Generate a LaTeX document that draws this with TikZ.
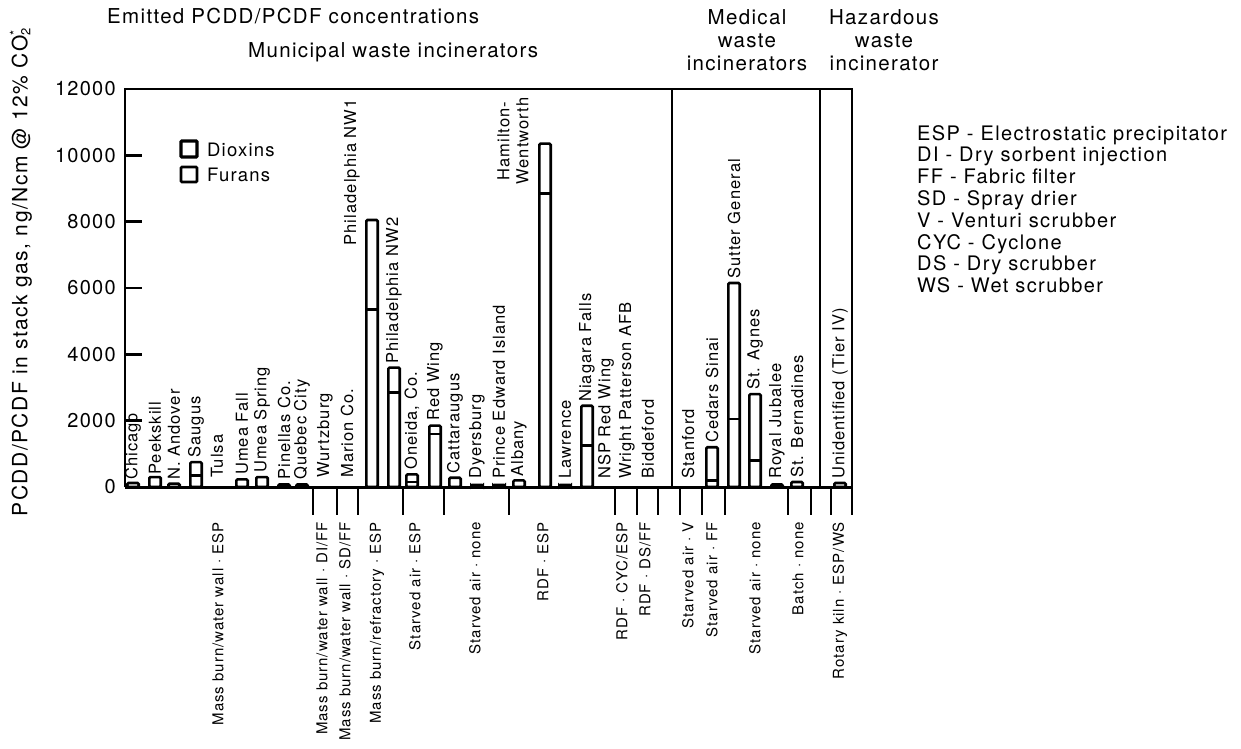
\documentclass[tikz,border=0pt]{standalone}
\usepackage{fontspec}
\setmainfont{TeX Gyre Heros}
\newfontfamily\hvs[LetterSpace=6.5]{TeX Gyre Heros}
\newfontfamily\hvl[LetterSpace=7]{TeX Gyre Heros}
\begin{document}
\begin{tikzpicture}[x=1pt,y=-1pt,line cap=butt]
\useasboundingbox (0,0) rectangle (1241,748);
\tikzset{
  frameline/.style={line width=2.6pt},
  barbox/.style={line width=2.6pt,rounded corners=1.2pt},
  tickline/.style={line width=2.8pt},
  nm/.style={rotate=90,anchor=west,inner sep=0pt,font=\hvs\fontsize{16.5}{20}\selectfont},
  cat/.style={rotate=90,anchor=east,inner sep=0pt,font=\hvs\fontsize{15}{18}\selectfont},
  head/.style={inner sep=0pt,font=\hvs\fontsize{20.5}{23}\selectfont},
  ylab/.style={anchor=east,inner sep=0pt,font=\hvs\fontsize{20}{23}\selectfont},
}
% headings
\node[head,anchor=base west] (title) at (107,23) {Emitted PCDD/PCDF concentrations};
\node[head,anchor=base west] (muni) at (248,57) {Municipal waste incinerators};
\node[head,anchor=north,align=center] (med) at (747,9) {Medical\\waste\\incinerators};
\node[head,anchor=north,align=center] (haz) at (884,9) {Hazardous\\waste\\incinerator};
% y axis title
\node[rotate=90,anchor=east,inner sep=0pt,font=\hvl\fontsize{21}{24}\selectfont] (ytitle) at (21,28)
  {PCDD/PCDF in stack gas, ng/Ncm @ 12\% CO\rlap{\raisebox{8pt}{\fontsize{13}{13}\selectfont *}}\raisebox{-3pt}{\fontsize{13}{13}\selectfont 2}};
% frame
\draw[frameline] (125,487) -- (125,89) -- (852,89) -- (852,515);
\draw[frameline] (672,89) -- (672,487);
\draw[frameline] (820,89) -- (820,487);
\draw[line width=3pt] (125,487) -- (852,487);
% y ticks
\foreach \v/\lab in {12000/12000,10000/10000,8000/8000,6000/6000,4000/4000,2000/2000,0/0}{
  \node[ylab] (t\v) at (116,{487-\v*0.03317}) {\lab};
}
\foreach \v in {10000,8000,6000,4000,2000}{
  \draw[frameline] (125,{487-\v*0.03317}) -- (142,{487-\v*0.03317});
}
% group ticks below baseline
\foreach \x in {313,337,358,403,444,509,615,637,658,680,702,725,788,811,831}{
  \draw[tickline] (\x,487) -- (\x,515);
}
% legend
\draw[line width=3.4pt,rounded corners=1pt] (181,141) rectangle (197,157);
\draw[line width=2.6pt,rounded corners=1pt] (181,167) rectangle (197,182);
\node[head,anchor=west,font=\hvs\fontsize{18.5}{21}\selectfont] (ldiox) at (207,150) {Dioxins};
\node[head,anchor=west,font=\hvs\fontsize{18.5}{21}\selectfont] (lfur) at (207,175) {Furans};
% bars with split
\foreach \x/\v/\s in {196/750/350,372/8050/5350,394/3600/2850,412/380/150,435/1850/1600,545/10350/8850,587/2450/1250,712/1200/200,734/6150/2050,755/2800/800}{
  \draw[barbox] (\x-5.7,487) rectangle (\x+5.7,{487-\v*0.03317});
  \draw[line width=2.6pt] (\x-5.7,{487-\s*0.03317}) -- (\x+5.7,{487-\s*0.03317});
}
% bars without split
\foreach \x/\v in {133/120,155/300,174/100,242/230,262/300,284/80,302/80,455/280,477/60,499/60,519/200,565/60,777/80,797/150,840/120}{
  \draw[barbox] (\x-5.7,487) rectangle (\x+5.7,{487-\v*0.03317});
}
% name labels
\foreach \x/\y/\t [count=\i] in {133/480/Chicago,155/475/Peekskill,174/480/N. Andover,196/458/Saugus,217/478/Tulsa,242/475/Umea Fall,262/473/Umea Spring,284/480/Pinellas Co.,302/480/Quebec City,325/478/Wurtzburg,347/478/Marion Co.,394/364/Philadelphia NW2,412/470/{Oneida, Co.},435/421/Red Wing,455/474/Cattaraugus,477/479/Dyersburg,499/479/Prince Edward Island,519/477/Albany,565/479/Lawrence,587/402/Niagara Falls,606/479/NSP Red Wing,627/479/Wright Patterson AFB,648/479/Biddeford,688/479/Stanford,712/443/Cedars Sinai,734/279/Sutter General,755/390/St. Agnes,777/479/Royal Jubalee,797/478/St. Bernadines,840/479/Unidentified (Tier IV)}{
  \node[nm] (n\i) at (\x,\y) {\t};
}
\node[nm,anchor=east] (nnw1) at (352,99) {Philadelphia NW1};
\node[rotate=90,inner sep=0pt,align=center,font=\hvs\fontsize{16.5}{19}\selectfont] (nhw) at (513,141) {Hamilton-\\Wentworth};
% category labels
\foreach \x/\t [count=\i] in {218/{Mass burn/water wall · ESP},322/{Mass burn/water wall · DI/FF},345/{Mass burn/water wall · SD/FF},377/{Mass burn/refractory · ESP},415/{Starved air · ESP},475/{Starved air · none},543/{RDF · ESP},622/{RDF · CYC/ESP},645/{RDF · DS/FF},688/{Starved air · V},712/{Starved air · FF},755/{Starved air · none},798/{Batch · none},840/{Rotary kiln · ESP/WS}}{
  \node[cat] (c\i) at (\x,522) {\t};
}
% right legend
\node[anchor=north west,inner sep=0pt,align=left,font=\hvl\fontsize{20}{21.8}\selectfont] (abbr) at (917,125)
 {ESP - Electrostatic precipitator\\DI - Dry sorbent injection\\FF - Fabric filter\\SD - Spray drier\\V - Venturi scrubber\\CYC - Cyclone\\DS - Dry scrubber\\WS - Wet scrubber};
\end{tikzpicture}
\end{document}
